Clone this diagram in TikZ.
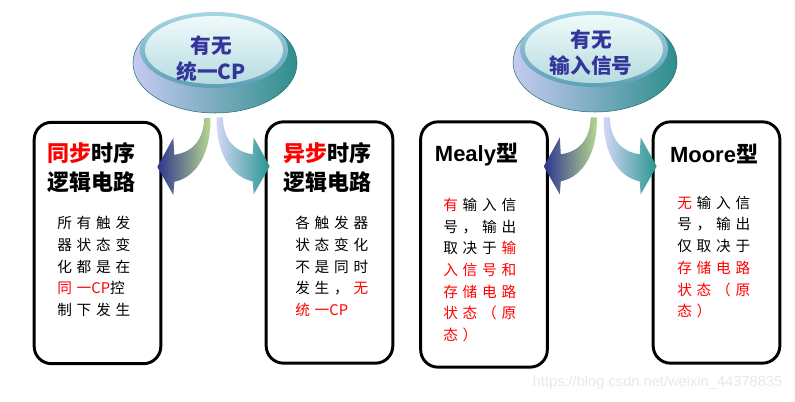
\documentclass[tikz,border=0pt]{standalone}
\usepackage{fontspec}
\setmainfont{Liberation Sans}
\newfontfamily\cjk{Noto Sans CJK SC}
\usetikzlibrary{calc, shapes.geometric}
\definecolor{ink}{HTML}{34349A}
\definecolor{signal}{HTML}{FF0000}
\definecolor{disclav}{HTML}{C6CAF2}
\definecolor{discteal}{HTML}{2E8E8C}
\definecolor{ringtop}{HTML}{A6D6E4}
\definecolor{ringbot}{HTML}{5E9FB8}
\definecolor{facetop}{HTML}{F0FAFA}
\definecolor{facebot}{HTML}{B5DCE0}
\definecolor{arrblue}{HTML}{2D358F}
\definecolor{arrgreen}{HTML}{B9D98E}
\definecolor{arrlav}{HTML}{D6D8F7}
\definecolor{arrteal}{HTML}{279690}

% Sperrsatz fuer die Erklaerungen
\newcount\cjkcode
\cjkcode="4E00
\loop\ifnum\cjkcode<"A000 \XeTeXcharclass\cjkcode=1 \advance\cjkcode by 1 \repeat
\XeTeXcharclass"FF0C=1 \XeTeXcharclass"FF08=1 \XeTeXcharclass"FF09=1
\XeTeXinterchartoks 1 1 = {\kern3.6pt}
\newcommand\gap{\kern3.6pt}
\newcommand\spread{\XeTeXinterchartokenstate=1\relax}

\begin{document}
\begin{tikzpicture}[x=0.75pt, y=-0.75pt,
    box/.style={draw, line width=2.2pt, rounded corners=13pt,
      minimum width=95pt, minimum height=181pt, inner sep=0pt},
    headline/.style={font=\cjk\bfseries\fontsize{16.5pt}{21.75pt}\selectfont,
      align=center, inner sep=0pt},
    bodytext/.style={font=\cjk\fontsize{11pt}{16.3pt}\selectfont\spread,
      align=left, anchor=west, inner sep=0pt},
    question/.style={font=\cjk\bfseries\fontsize{15.5pt}{19.5pt}\selectfont,
      text=ink, align=center, inner sep=0pt},
    disc/.style={ellipse, minimum width=123pt, minimum height=75pt,
      left color=disclav, right color=discteal,
      draw=discteal!80!black, line width=0.4pt}]
  \useasboundingbox (0,0) rectangle (795,402);

  % die vier Kaesten
  \node[box] (sync) at (97.5,243) {};
  \node[box] (async) at (329.5,242.5) {};
  \node[box, minimum height=184pt] (mealy) at (484,244.5) {};
  \node[box] (moore) at (716.5,242.5) {};

  % Ueberschriften
  \node[headline] (t1) at (91,167.5) {\textcolor{signal}{同步}时序\\逻辑电路};
  \node[headline] (t2) at (327,167.5) {\textcolor{signal}{异步}时序\\逻辑电路};
  \node[headline, font=\bfseries\fontsize{16.5pt}{20pt}\selectfont]
    (t3) at (476.5,155) {Mealy{\cjk 型}};
  \node[headline, font=\bfseries\fontsize{16.5pt}{20pt}\selectfont]
    (t4) at (714,154) {Moore{\cjk 型}};

  % Erklaerungen
  \node[bodytext] (b1) at (57,266.5)
    {所有触发\\器状态变\\化都是在\\\textcolor{signal}{同一CP}控\\制下发生};
  \node[bodytext] (b2) at (295,266.5)
    {各触发器\\状态变化\\不是同时\\发生，\gap\textcolor{signal}{无}\\\textcolor{signal}{统一CP}};
  \node[bodytext] (b3) at (443,270)
    {\textcolor{signal}{有}\gap 输入信\\号，输出\\取决于\gap\textcolor{signal}{输}\\\textcolor{signal}{入信号和}\\\textcolor{signal}{存储电路}\\\textcolor{signal}{状态（原}\\\textcolor{signal}{态）}};
  \node[bodytext] (b4) at (677,257)
    {\textcolor{signal}{无}\gap 输入信\\号，输出\\仅取决于\\\textcolor{signal}{存储电路}\\\textcolor{signal}{状态（原}\\\textcolor{signal}{态）}};

  % Knoepfe oben
  \foreach \q/\cx/\cy in {1/215/63, 2/595/62} {
    \node[disc] (disc\q) at (\cx,\cy) {};
    \shade[top color=ringtop, bottom color=ringbot]
      ($(disc\q)+(-1,-13)$) ellipse [x radius=55.5pt, y radius=28.5pt];
    \shade[top color=facetop, bottom color=facebot]
      ($(disc\q)+(-1,-13)$) ellipse [x radius=51.75pt, y radius=25.5pt];
  }
  \node[question] (q1) at (211,59) {有无\\统一CP};
  \node[question] (q2) at (591,53) {有无\\输入信号};

  % gebogene Pfeile
  \foreach \bx/\side/\fx/\lc/\rc in {sync/north east/1/arrblue/arrgreen,
      async/north west/-1/arrlav/arrteal, mealy/north east/1/arrblue/arrgreen,
      moore/north west/-1/arrlav/arrteal}
    \shade[left color=\lc, right color=\rc, shift={($(\bx.\side)+(-5*\fx,46)$)}]
      (0,0) -- (16*\fx,-29) -- (17*\fx,-12)
      .. controls (36*\fx,-15) and (46*\fx,-27) .. (47*\fx,-49)
      -- (53*\fx,-49) .. controls (54*\fx,-17) and (41*\fx,10) .. (17*\fx,15)
      -- (16*\fx,28) -- cycle;

  \node[text=gray!18, font=\fontsize{11pt}{13pt}\selectfont, anchor=east]
    (mark) at (787,383) {https://blog.csdn.net/weixin\_44378835};
\end{tikzpicture}
\end{document}
